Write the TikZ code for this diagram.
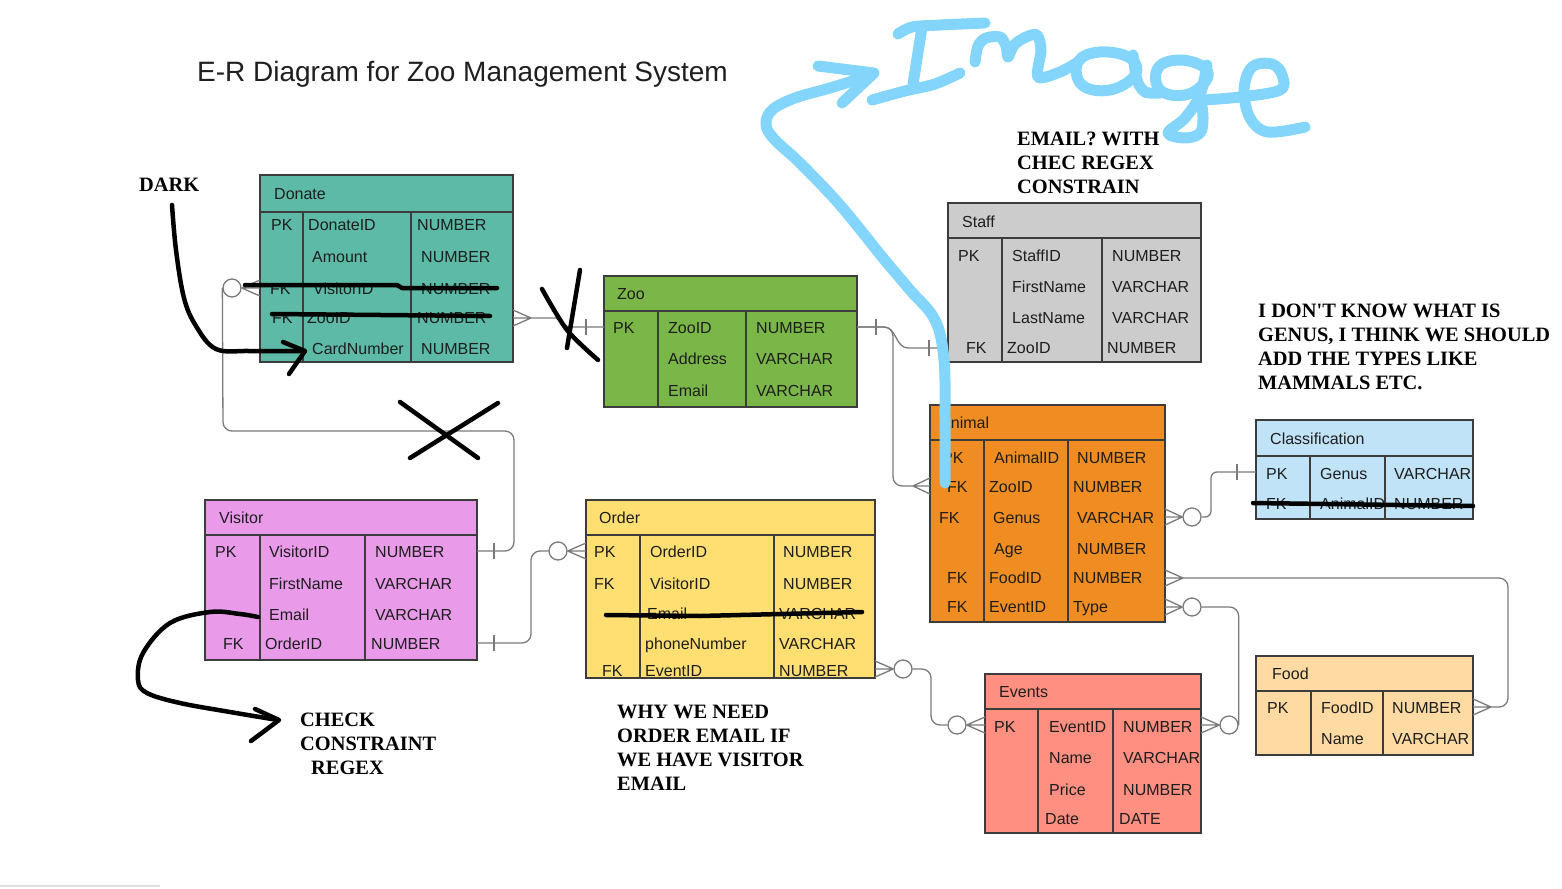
\documentclass[tikz,border=0pt]{standalone}
\usepackage{fontspec}
\setmainfont{Liberation Sans}
\newfontfamily\handfont{Liberation Serif}
\usetikzlibrary{calc}

\definecolor{cDonate}{HTML}{5CBAA6}
\definecolor{cZoo}{HTML}{7AB648}
\definecolor{cStaff}{HTML}{CCCCCC}
\definecolor{cAnimal}{HTML}{EF8D22}
\definecolor{cClass}{HTML}{C1E3F7}
\definecolor{cVisitor}{HTML}{E99BEA}
\definecolor{cOrder}{HTML}{FFDF71}
\definecolor{cEvents}{HTML}{FF8F80}
\definecolor{cFood}{HTML}{FFDBA3}
\definecolor{tblline}{HTML}{3C3C3C}
\definecolor{relc}{HTML}{7A7A7A}
\definecolor{sky}{HTML}{84D5FB}
\definecolor{txt}{HTML}{1E1E1E}

% entity box: name, x1, y1, x2, y2, header rule y, column rule 1 x, column rule 2 x, fill
\newcommand\ertable[9]{%
  \node[tbl, fill=#9, minimum width={(#4)-(#2)}, minimum height={(#5)-(#3)}] (#1) at (#2,#3) {};
  \draw[tblin] (#2,#6) -- (#4,#6) (#7,#6) -- (#7,#5) (#8,#6) -- (#8,#5);
}
% one text cell placed by its baseline
\newcommand\ercell[4]{\node[cell] (#1) at (#2,#3) {#4};}
% crow's foot: point on the entity edge, convergence point
\newcommand\ercrow[2]{\draw[rel] (#2) -- ($(#1)+(0,-8)$) (#2) -- (#1) (#2) -- ($(#1)+(0,8)$);}
% "one" bar across a relationship line
\newcommand\ertick[1]{\draw[rel] ($(#1)+(0,-8)$) -- ($(#1)+(0,8)$);}

\begin{document}
\begin{tikzpicture}[x=1pt,y=-1pt,
  tbl/.style={draw=tblline, line width=1.2pt, anchor=north west, inner sep=0pt, outer sep=0pt},
  tblin/.style={draw=tblline, line width=1.2pt},
  cell/.style={anchor=base west, inner sep=0pt, text=txt, font=\fontsize{16}{19}\selectfont},
  rel/.style={draw=relc, line width=1.3pt},
  relr/.style={rel, rounded corners=9pt},
  zc/.style={circle, draw=relc, fill=white, line width=1.3pt, minimum size=18pt, inner sep=0pt},
  ink/.style={draw=black, line width=4.5pt, line cap=round, line join=round},
  note/.style={anchor=base west, inner sep=0pt, font=\handfont\bfseries\fontsize{20.4}{24.5}\selectfont},
  skyink/.style={draw=sky, line width=11pt, line cap=round, line join=round}
]
\useasboundingbox[fill=white] (0,0) rectangle (1562,888);
\draw[black!12, line width=2pt] (0,886) -- (160,886);

\node[anchor=base west, inner sep=0pt, font=\fontsize{28}{32}\selectfont, text=black!88] (title) at (197,82) {E-R Diagram for Zoo Management System};

% ---------------- entities ----------------
\ertable{donate}{260}{175}{513}{362}{212}{303}{411}{cDonate}
\ercell{dT}{274}{199}{Donate}
\ercell{d1k}{271}{230}{PK} \ercell{d1n}{308}{230}{DonateID} \ercell{d1t}{417}{230}{NUMBER}
\ercell{d2n}{312}{262}{Amount} \ercell{d2t}{421}{262}{NUMBER}
\ercell{d3k}{270}{294}{FK} \ercell{d3n}{313}{294}{VisitorID} \ercell{d3t}{421}{294}{NUMBER}
\ercell{d4k}{272}{323}{FK} \ercell{d4n}{307}{323}{ZooID} \ercell{d4t}{417}{323}{NUMBER}
\ercell{d5n}{312}{354}{CardNumber} \ercell{d5t}{421}{354}{NUMBER}

\ertable{zoo}{604}{276}{857}{407}{311}{658}{746}{cZoo}
\ercell{zT}{617}{299}{Zoo}
\ercell{z1k}{613}{333}{PK} \ercell{z1n}{668}{333}{ZooID} \ercell{z1t}{756}{333}{NUMBER}
\ercell{z2n}{668}{364}{Address} \ercell{z2t}{756}{364}{VARCHAR}
\ercell{z3n}{668}{396}{Email} \ercell{z3t}{756}{396}{VARCHAR}

\ertable{staff}{948}{203}{1201}{362}{238}{1002}{1102}{cStaff}
\ercell{sT}{962}{227}{Staff}
\ercell{s1k}{958}{261}{PK} \ercell{s1n}{1012}{261}{StaffID} \ercell{s1t}{1112}{261}{NUMBER}
\ercell{s2n}{1012}{292}{FirstName} \ercell{s2t}{1112}{292}{VARCHAR}
\ercell{s3n}{1012}{323}{LastName} \ercell{s3t}{1112}{323}{VARCHAR}
\ercell{s4k}{966}{353}{FK} \ercell{s4n}{1007}{353}{ZooID} \ercell{s4t}{1107}{353}{NUMBER}

\ertable{animal}{930}{405}{1165}{622}{440}{984}{1068}{cAnimal}
\ercell{aT}{940}{428}{Animal}
\ercell{a1k}{942}{463}{PK} \ercell{a1n}{994}{463}{AnimalID} \ercell{a1t}{1077}{463}{NUMBER}
\ercell{a2k}{947}{492}{FK} \ercell{a2n}{989}{492}{ZooID} \ercell{a2t}{1073}{492}{NUMBER}
\ercell{a3k}{939}{523}{FK} \ercell{a3n}{993}{523}{Genus} \ercell{a3t}{1077}{523}{VARCHAR}
\ercell{a4n}{994}{554}{Age} \ercell{a4t}{1077}{554}{NUMBER}
\ercell{a5k}{947}{583}{FK} \ercell{a5n}{989}{583}{FoodID} \ercell{a5t}{1073}{583}{NUMBER}
\ercell{a6k}{947}{612}{FK} \ercell{a6n}{989}{612}{EventID} \ercell{a6t}{1073}{612}{Type}

\ertable{class}{1256}{420}{1473}{519}{456}{1310}{1385}{cClass}
\ercell{cT}{1270}{444}{Classification}
\ercell{c1k}{1266}{479}{PK} \ercell{c1n}{1320}{479}{Genus} \ercell{c1t}{1394}{479}{VARCHAR}
\ercell{c2k}{1266}{509}{FK} \ercell{c2n}{1320}{509}{AnimalID} \ercell{c2t}{1394}{509}{NUMBER}

\ertable{visitor}{205}{500}{477}{660}{535}{260}{365}{cVisitor}
\ercell{vT}{219}{523}{Visitor}
\ercell{v1k}{215}{557}{PK} \ercell{v1n}{269}{557}{VisitorID} \ercell{v1t}{375}{557}{NUMBER}
\ercell{v2n}{269}{589}{FirstName} \ercell{v2t}{375}{589}{VARCHAR}
\ercell{v3n}{269}{620}{Email} \ercell{v3t}{375}{620}{VARCHAR}
\ercell{v4k}{223}{649}{FK} \ercell{v4n}{265}{649}{OrderID} \ercell{v4t}{371}{649}{NUMBER}

\ertable{order}{586}{500}{875}{678}{535}{640}{774}{cOrder}
\ercell{oT}{599}{523}{Order}
\ercell{o1k}{594}{557}{PK} \ercell{o1n}{650}{557}{OrderID} \ercell{o1t}{783}{557}{NUMBER}
\ercell{o2k}{594}{589}{FK} \ercell{o2n}{650}{589}{VisitorID} \ercell{o2t}{783}{589}{NUMBER}
\ercell{o3n}{647}{619}{Email} \ercell{o3t}{779}{619}{VARCHAR}
\ercell{o4n}{645}{649}{phoneNumber} \ercell{o4t}{779}{649}{VARCHAR}
\ercell{o5k}{602}{676}{FK} \ercell{o5n}{645}{676}{EventID} \ercell{o5t}{779}{676}{NUMBER}

\ertable{events}{985}{674}{1201}{833}{709}{1038}{1113}{cEvents}
\ercell{eT}{999}{697}{Events}
\ercell{e1k}{994}{732}{PK} \ercell{e1n}{1049}{732}{EventID} \ercell{e1t}{1123}{732}{NUMBER}
\ercell{e2n}{1049}{763}{Name} \ercell{e2t}{1123}{763}{VARCHAR}
\ercell{e3n}{1049}{795}{Price} \ercell{e3t}{1123}{795}{NUMBER}
\ercell{e4n}{1045}{824}{Date} \ercell{e4t}{1119}{824}{DATE}

\ertable{food}{1256}{656}{1473}{755}{691}{1311}{1383}{cFood}
\ercell{fT}{1272}{679}{Food}
\ercell{f1k}{1267}{713}{PK} \ercell{f1n}{1321}{713}{FoodID} \ercell{f1t}{1392}{713}{NUMBER}
\ercell{f2n}{1321}{744}{Name} \ercell{f2t}{1392}{744}{VARCHAR}

% ---------------- relationships ----------------
% Visitor (one) -- Donate (zero or many)
\coordinate (dVis) at (donate.west |- 0,288);
\coordinate (vVis) at (visitor.east |- 0,551);
\node[zc] (zr1) at (232,288) {};
\draw[relr] (vVis) -- (514,551) |- (223,431) -- (zr1.west);
\ertick{494,551}
\ercrow{dVis}{zr1.east}

% Donate (many) -- Zoo (one)
\coordinate (dZoo) at (donate.east |- 0,318);
\coordinate (zPK) at (zoo.west |- 0,327);
\coordinate (t2) at (531,318);
\ercrow{dZoo}{t2}
\draw[rel] (t2) -- (556,318) -- (568,327) -- (zPK);
\ertick{586,327}

% Zoo (one) -- Staff (one)
\coordinate (zE) at (zoo.east |- 0,327);
\coordinate (sZoo) at (staff.west |- 0,348);
\draw[rel] (zE) -- (884,327) to[out=0,in=180] (908,348) -- (sZoo);
\ertick{876,327}
\ertick{929,348}

% Zoo (one) -- Animal (many)
\coordinate (aZoo) at (animal.west |- 0,486);
\coordinate (t3) at (913,486);
\draw[relr] (zE) -- (893,327) -- (893,486) -- (t3);
\ercrow{aZoo}{t3}

% Animal (zero or many) -- Classification (one)
\coordinate (aGen) at (animal.east |- 0,517);
\coordinate (cGen) at (class.west |- 0,472);
\node[zc] (zr2) at (1192,517) {};
\ercrow{aGen}{zr2.west}
\draw[rel, rounded corners=6pt] (zr2.east) -- (1211,517) -- (1211,472) -- (cGen);
\ertick{1237,472}

% Animal (many) -- Food (many)
\coordinate (aFood) at (animal.east |- 0,578);
\coordinate (fE) at (food.east |- 0,707);
\coordinate (t4) at (1183,578);
\coordinate (t5) at (1491,707);
\ercrow{aFood}{t4}
\ercrow{fE}{t5}
\draw[relr] (t4) -- (1508,578) -- (1508,707) -- (t5);

% Animal (zero or many) -- Events (zero or many)
\coordinate (aEv) at (animal.east |- 0,607);
\coordinate (eR) at (events.east |- 0,725);
\node[zc] (zr3) at (1192,607) {};
\node[zc] (zr4) at (1229,725) {};
\ercrow{aEv}{zr3.west}
\ercrow{eR}{zr4.west}
\draw[relr] (zr3.east) -| (zr4.east);

% Order (zero or many) -- Events (zero or many)
\coordinate (oEv) at (order.east |- 0,669);
\coordinate (eL) at (events.west |- 0,725);
\node[zc] (zr5) at (903,669) {};
\node[zc] (zr6) at (957,725) {};
\ercrow{oEv}{zr5.west}
\ercrow{eL}{zr6.east}
\draw[relr] (zr5.east) -- (931,669) -- (931,725) -- (zr6.west);

% Visitor (one) -- Order (zero or many)
\coordinate (vOrd) at (visitor.east |- 0,643);
\coordinate (oPK) at (order.west |- 0,551);
\node[zc] (zr7) at (558,551) {};
\ercrow{oPK}{zr7.east}
\draw[relr] (vOrd) -- (531,643) -- (531,551) -- (zr7.west);
\ertick{494,643}

% ---------------- pen marks ----------------
\draw[ink] plot[smooth, tension=0.6] coordinates {(172,205) (176,250) (184,298) (196,326) (216,349) (250,351) (303,351)};
\draw[ink] (283,342) -- (305,351) -- (289,374);
\draw[ink] (245,285) -- (397,285) -- (402,288) -- (497,288);
\draw[ink] (272,314) -- (490,316);
\draw[ink] plot[smooth] coordinates {(542,289) (567,330) (598,360)};
\draw[ink] plot[smooth] coordinates {(580,270) (575,300) (567,348)};
\draw[ink] (400,402) -- (478,458);
\draw[ink] (498,403) -- (410,458);
\draw[ink] plot[smooth, tension=0.6] coordinates {(258,617) (240,614) (210,612) (170,623) (143,653) (138,680) (147,693) (180,703) (230,712) (278,720)};
\draw[ink] (255,709) -- (279,720) -- (251,741);
\draw[ink] (606,615) -- (700,616) -- (862,612);
\draw[ink] (1253,503) -- (1473,506);

\node[note] (nDark) at (139,191) {DARK};
\node[note] (nE1) at (1017,145) {EMAIL? WITH};
\node[note] (nE2) at (1017,169) {CHEC REGEX};
\node[note] (nE3) at (1017,193) {CONSTRAIN};
\node[note] (nG1) at (1258,317) {I DON'T KNOW WHAT IS};
\node[note] (nG2) at (1258,341) {GENUS, I THINK WE SHOULD};
\node[note] (nG3) at (1258,365) {ADD THE TYPES LIKE};
\node[note] (nG4) at (1258,389) {MAMMALS ETC.};
\node[note] (nC1) at (300,726) {CHECK};
\node[note] (nC2) at (300,750) {CONSTRAINT};
\node[note] (nC3) at (311,774) {REGEX};
\node[note] (nW1) at (617,718) {WHY WE NEED};
\node[note] (nW2) at (617,742) {ORDER EMAIL IF};
\node[note] (nW3) at (617,766) {WE HAVE VISITOR};
\node[note] (nW4) at (617,790) {EMAIL};

% ---------------- blue scribble ----------------
\draw[skyink] plot[smooth, tension=0.6] coordinates {(945,483) (945,420) (944,360) (935,320) (910,290) (883,258) (840,205) (800,163) (775,140) (766,125) (772,110) (795,98) (830,88) (868,76)};
\draw[skyink] (818,66) -- (874,73) -- (842,103);
% I
\draw[skyink] plot[smooth] coordinates {(898,34) (912,27) (940,25) (985,23)};
\draw[skyink] (922,27) -- (913,84);
\draw[skyink] plot[smooth] coordinates {(872,100) (905,91) (935,84) (960,73)};
% m
\draw[skyink] plot[smooth, tension=0.5] coordinates {(975,62) (978,46) (986,38) (1000,37) (1006,46) (1008,57) (1014,45) (1026,37) (1037,35) (1041,50) (1038,77) (1060,72) (1078,62)};
% a
\draw[skyink] plot[smooth cycle, tension=0.7] coordinates {(1130,58) (1100,52) (1078,62) (1082,85) (1110,90) (1135,75)};
\draw[skyink] plot[smooth] coordinates {(1133,55) (1137,80) (1145,92) (1160,93)};
% g
\draw[skyink] plot[smooth cycle, tension=0.7] coordinates {(1205,68) (1180,60) (1158,68) (1160,90) (1185,95) (1205,82)};
\draw[skyink] plot[smooth, tension=0.6] coordinates {(1207,65) (1200,95) (1185,118) (1168,133) (1185,138) (1200,133) (1203,118) (1201,100)};
% e
\draw[skyink] plot[smooth, tension=0.6] coordinates {(1203,100) (1240,97) (1280,90) (1282,75) (1272,64) (1252,67) (1244,90) (1250,118) (1268,132) (1305,127)};
\end{tikzpicture}
\end{document}
